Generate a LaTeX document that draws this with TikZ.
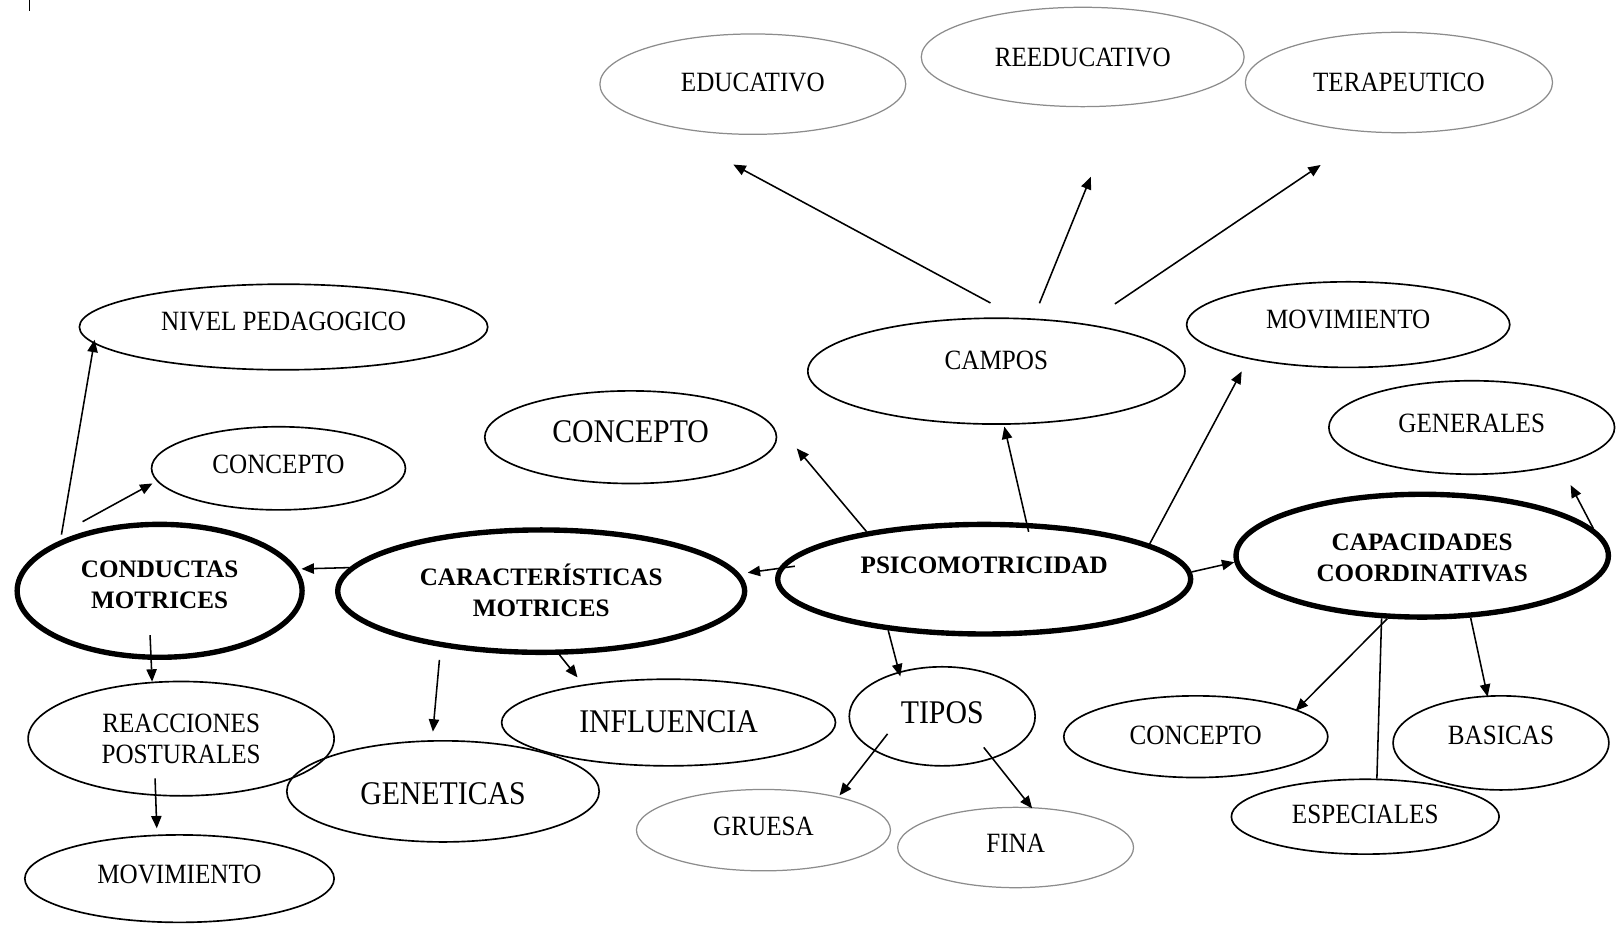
\documentclass[tikz,border=0pt]{standalone}
\usepackage{fontspec}
\setmainfont{Liberation Serif}
\newfontfamily\rgfont{Liberation Serif}[FakeStretch=0.9]
\usetikzlibrary{shapes.geometric,arrows.meta}
\begin{document}
\begin{tikzpicture}[x=1pt,y=-1pt,
  elthin/.style={ellipse,draw,line width=1.6pt,inner sep=0pt,align=center,font=\rgfont\fontsize{27}{30}\selectfont},
  elgray/.style={elthin,draw=black!45,line width=1.2pt},
  elthick/.style={ellipse,draw,line width=5.2pt,inner sep=0pt,align=center,font=\bfseries\fontsize{24.3}{30}\selectfont},
  fbig/.style={font=\rgfont\fontsize{32}{36}\selectfont},
  sz/.style 2 args={minimum width=#1pt,minimum height=#2pt},
  toff/.style 2 args={text height=#1pt,text depth=#2pt},
  arw/.style={-{Triangle[length=12pt,width=10pt]},line width=1.5pt},
  lin/.style={line width=1.5pt}]
\useasboundingbox (0,0) rectangle (1568,894);
\draw[line width=1pt] (29,0) -- (29,10.6);
% nodes
\node[elgray,sz={295.9}{97.1},toff={14.5}{0}] (educ) at (728.2,81.4) {EDUCATIVO};
\node[elgray,sz={312.3}{96.1},toff={18.7}{0}] (reeduc) at (1047.3,55.1) {REEDUCATIVO};
\node[elgray,sz={297.1}{97.1},toff={17.7}{0}] (terap) at (1353.2,79.8) {TERAPEUTICO};
\node[elthin,sz={364.8}{102.4},toff={0}{2.3}] (campos) at (963.8,359) {CAMPOS};
\node[elthin,sz={312.6}{82.8},toff={7.1}{0}] (movT) at (1304.1,314) {MOVIMIENTO};
\node[elthin,sz={276.4}{90.4},toff={9.7}{0}] (gener) at (1423.6,413.5) {GENERALES};
\node[elthin,fbig,sz={282.2}{89.6},toff={11.2}{0}] (concM) at (610,422.9) {CONCEPTO};
\node[elthin,sz={395}{82.8},toff={6.9}{0}] (nivel) at (274.3,316.3) {NIVEL PEDAGOGICO};
\node[elthin,sz={245.6}{80.4},toff={9.7}{0}] (concL) at (269.4,453) {CONCEPTO};
\node[elthick,sz={275.6}{128.6},toff={34.7}{0}] (cond) at (154.4,571.5) {CONDUCTAS\\MOTRICES};
\node[elthick,sz={393.6}{118.4},toff={48.7}{0}] (caract) at (523.5,571.8) {CARACTERÍSTICAS\\MOTRICES};
\node[elthick,sz={399.4}{106},toff={0}{10.9}] (psico) at (952,560.25) {PSICOMOTRICIDAD};
\node[elthick,sz={360.2}{118.8},toff={49.7}{0}] (capac) at (1375.7,537.5) {CAPACIDADES\\COORDINATIVAS};
\node[elthin,sz={296}{110.6},toff={47.7}{0}] (reac) at (175.2,714.5) {REACCIONES\\POSTURALES};
\node[elthin,fbig,sz={302.2}{97.8},toff={25.2}{0}] (genet) at (428.5,765.5) {GENETICAS};
\node[elthin,fbig,sz={323}{83.8},toff={18.8}{0}] (influ) at (646.7,698.9) {INFLUENCIA};
\node[elthin,sz={299.2}{84.6},toff={9.1}{0}] (movB) at (173.6,849.9) {MOVIMIENTO};
\node[elthin,fbig,sz={179.8}{95.8},toff={13.6}{0}] (tipos) at (911.4,692.9) {TIPOS};
\node[elgray,sz={245.7}{78.7},toff={9.7}{0}] (gruesa) at (738.5,803) {GRUESA};
\node[elgray,sz={228.1}{77.7},toff={9.7}{0}] (fina) at (982.4,819.8) {FINA};
\node[elthin,sz={255.4}{79},toff={15.7}{0}] (concR) at (1156.7,712.6) {CONCEPTO};
\node[elthin,sz={208.8}{91},toff={3.5}{0}] (basic) at (1451.9,718.6) {BASICAS};
\node[elthin,sz={259}{72.4},toff={12.9}{0}] (espec) at (1320.6,790) {ESPECIALES};
% free ends
\coordinate (tipC) at (770.7,433.7);
\coordinate (condT) at (79.9,504.6);
% connectors
\draw[arw,shorten <=30.2pt,shorten >=82.3pt] (campos.68.1) -- (educ.203.5);
\draw[arw,shorten <=15.8pt,shorten >=74pt] (campos.55.4) -- (reeduc.307.4);
\draw[arw,shorten <=34.2pt,shorten >=56.4pt] (campos.28) -- (terap.239.5);
\draw[arw] (psico.158.5) -- (tipC);
\draw[arw,shorten <=-8.8pt,shorten >=1.7pt] (psico.53.6) -- (campos.278.1);
\draw[arw,shorten >=13.6pt] (psico.12.4) -- (movT.199.6);
\draw[arw] (psico.2.2) -- (capac.182.5);
\draw[arw,shorten <=-15.7pt,shorten >=7.9pt] (psico.177.75) -- (caract.5.41);
\draw[arw,shorten >=4pt] (caract.173.2) -- (cond.9);
\draw[arw,shorten <=5.6pt,shorten >=-3.8pt] (cond.153.3) -- (nivel.185.7);
\draw[arw,shorten >=4.7pt] (condT) -- (concL.186);
\draw[arw,shorten <=-24pt] (cond.263.1) -- (reac.117.3);
\draw[arw,shorten <=-17pt,shorten >=6pt] (reac.246.9) -- (movB.117.3);
\draw[arw,shorten <=12.6pt,shorten >=8.2pt] (caract.209.25) -- (genet.102.3);
\draw[arw,shorten >=8.8pt] (caract.286.4) -- (influ.156.4);
\draw[arw,shorten >=-4.8pt] (psico.208.9) -- (tipos.134.5);
\draw[arw,shorten <=-21pt,shorten >=1.6pt] (tipos.207.8) -- (gruesa.24.8);
\draw[arw,shorten <=-14pt,shorten >=-1.6pt] (tipos.320.1) -- (fina.69.1);
\draw[arw,shorten >=22pt] (capac.9) -- (gener.337.1);
\draw[arw,shorten >=-1.6pt] (capac.241.4) -- (concR.15.1);
\draw[lin] (capac.237.4) -- (espec.73.3);
\draw[arw,shorten >=-1.3pt] (capac.308) -- (basic.106);
\end{tikzpicture}
\end{document}
